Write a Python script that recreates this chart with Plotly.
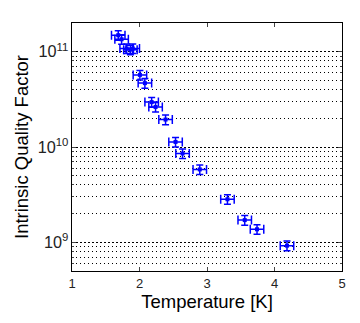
import plotly.graph_objects as go
import numpy as np

temperature = [1.685, 1.735, 1.81, 1.865, 1.90, 2.006, 2.08, 2.18, 2.238, 2.386,
               2.534, 2.638, 2.893, 3.303, 3.559, 3.741, 4.185]
quality = [1.49e11, 1.35e11, 1.08e11, 1.05e11, 1.08e11, 5.71e10, 4.68e10, 2.96e10, 2.63e10, 1.94e10,
           1.13e10, 8.55e9, 5.82e9, 2.83e9, 1.71e9, 1.37e9, 9.23e8]
temp_err = [0.1] * len(temperature)
q_rel_err = 0.115

q = np.array(quality)
fig = go.Figure()
fig.add_trace(go.Scatter(
    x=temperature, y=quality, mode="markers",
    marker=dict(symbol="square", size=4, color="#0000ff"),
    error_x=dict(type="data", array=temp_err, color="#0000ff", thickness=1.5, width=4.5),
    error_y=dict(type="data", array=list(q * q_rel_err), arrayminus=list(q * q_rel_err),
                 color="#0000ff", thickness=1.5, width=3.5),
    showlegend=False,
))

font = "Liberation Sans, Arial, sans-serif"
fig.update_layout(
    width=360, height=323,
    margin=dict(l=72, r=18, t=23, b=52),
    paper_bgcolor="white", plot_bgcolor="white",
    font=dict(family=font, color="black"),
)
fig.update_xaxes(
    range=[1, 5], tickvals=[1, 2, 3, 4, 5], ticks="inside", ticklen=4,
    showline=True, linecolor="black", linewidth=1, mirror="ticks",
    showgrid=False, zeroline=False,
    tickfont=dict(size=13, color="#222"),
    title=dict(text="Temperature [K]", font=dict(size=18.5), standoff=5),
)
fig.update_yaxes(
    type="log", range=[np.log10(5e8), np.log10(2e11)], dtick=1,
    exponentformat="power", showexponent="all",
    ticks="inside", ticklen=4,
    showline=True, linecolor="black", linewidth=1, mirror="ticks",
    showgrid=True, gridcolor="black", griddash="2px,2px", gridwidth=1,
    minor=dict(ticks="inside", ticklen=2, showgrid=True, gridcolor="black",
               griddash="1px,3px", gridwidth=1),
    tickfont=dict(size=13, color="#222"),
    title=dict(text="Intrinsic Quality Factor", font=dict(size=18.5), standoff=4),
)
fig.write_html("out.html")
